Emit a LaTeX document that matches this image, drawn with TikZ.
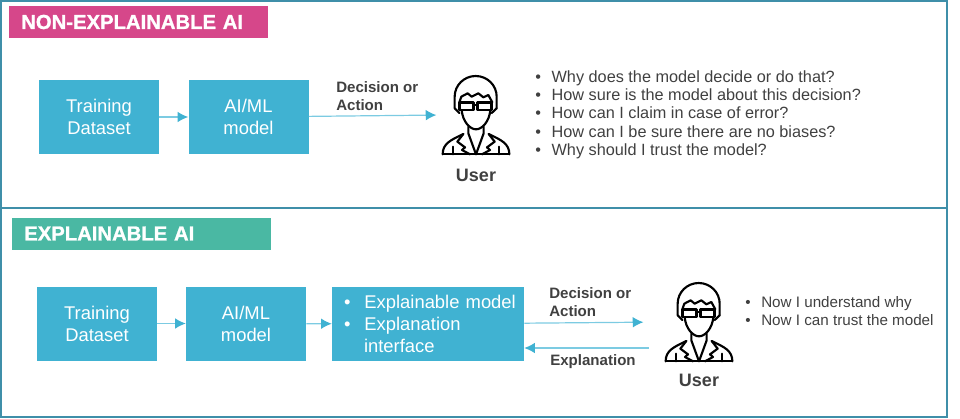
\documentclass[tikz,border=0pt]{standalone}
\usepackage{fontspec}
\usepackage{tikz}
\usetikzlibrary{arrows.meta}
\setmainfont{Liberation Sans}
\newfontfamily\headfont[FakeBold=1.2, UprightFont=*, BoldFont=*]{Liberation Sans Bold}
\definecolor{boxblue}{HTML}{40B2D2}
\definecolor{linkblue}{HTML}{7CCBE2}
\definecolor{framecol}{HTML}{3F8FA9}
\definecolor{headpink}{HTML}{D6478A}
\definecolor{headgreen}{HTML}{4AB8A3}
\definecolor{labelgrey}{HTML}{404040}
\begin{document}
\begin{tikzpicture}[x=0.75pt, y=-0.75pt]
	\tikzset{frame/.style={draw=framecol, line width=1.1pt}}
	\tikzset{header/.style={anchor=west, minimum height=24pt, text width=176pt, inner xsep=9pt, inner ysep=0pt, text=white, font=\headfont\fontsize{15.2}{16}\selectfont}}
	\tikzset{block/.style={fill=boxblue, text=white, minimum width=90pt, minimum height=55.5pt, inner sep=0pt, align=center, font=\fontsize{13.8}{16.5}\selectfont}}
	\tikzset{edge/.style={draw=linkblue, line width=0.9pt, -{Latex[length=8pt, width=8pt, color=boxblue]}}}
	\tikzset{tag/.style={anchor=west, inner sep=0pt, align=left, text=labelgrey, font=\fontsize{11.3}{13.8}\selectfont\bfseries}}
	\tikzset{usertag/.style={text=labelgrey, inner sep=0pt, font=\fontsize{13.5}{16}\selectfont\bfseries}}
	\tikzset{questions/.style={anchor=north west, inner sep=0pt, align=left, text=labelgrey}}
	\tikzset{usericon/.style={minimum width=50pt, minimum height=58pt, inner sep=0pt}}
	\tikzset{pics/userfig/.style={code={
		\begin{scope}[x=0.25pt, y=-0.25pt, line width=1.6pt, line join=round, line cap=round, black]
			%hair
			\draw (-64,-20) -- (-64,-55) arc[start angle=180, end angle=360, x radius=63, y radius=62] -- (62,-20);
			\draw (-50,-38) -- (-44,-55) -- (-25,-65) -- (-13,-55) -- (7,-65) -- (22,-53) -- (37,-60) -- (49,-38);
			%glasses
			\draw[line width=2pt] (-50,-38) rectangle (-8,-15);
			\draw[line width=2pt] (4,-38) rectangle (47,-15);
			\draw[line width=2pt] (-8,-30) -- (4,-30);
			%face
			\draw (-43,-15) .. controls (-40,20) and (-18,43) .. (0,43) .. controls (18,43) and (40,20) .. (43,-15);
			\draw (-64,-20) -- (-50,-6) (62,-20) -- (47,-6);
			%neck and body
			\draw (-23,35) -- (-23,55) -- (0,118) -- (23,55) -- (23,35);
			\draw (-100,118) .. controls (-100,85) and (-75,75) .. (-38,57);
			\draw (100,118) .. controls (100,85) and (75,75) .. (38,57);
			\draw (-100,118) -- (100,118);
			%collar
			\draw (-38,57) -- (-56,80) -- (-33,97) -- (-42,105) -- (-18,118);
			\draw (38,57) -- (56,80) -- (33,97) -- (42,105) -- (18,118);
			\draw (-68,95) -- (-68,118) (68,95) -- (68,118);
		\end{scope}
	}}}
	%frames
	\node[frame, minimum width=709.5pt, minimum height=155pt, inner sep=0pt] (top) at (474,104.5) {};
	\node[frame, minimum width=709.5pt, minimum height=156.5pt, inner sep=0pt] (bottom) at (474,312.5) {};
	%headers
	\node[header, fill=headpink] (headone) at (9,22) {NON-EXPLAINABLE AI};
	\node[header, fill=headgreen] (headtwo) at (12,233.5) {EXPLAINABLE AI};
	%upper row
	\node[block] (trainone) at (99,117) {Training\\Dataset};
	\node[block] (modelone) at (248.5,117) {AI/ML\\model};
	\node[usericon] (userone) at (476,115) {};
	\pic at (userone.center) {userfig};
	\node[usertag] (nameone) at (476,175) {User};
	\node[tag] (decone) at (336,96) {Decision or\\Action};
	\node[questions, font=\fontsize{12.2}{13.8}\selectfont] (askone) at (535,70) {
		•\hspace{8pt}Why does the model decide or do that?\\
		•\hspace{8pt}How sure is the model about this decision?\\
		•\hspace{8pt}How can I claim in case of error?\\
		•\hspace{8pt}How can I be sure there are no biases?\\
		•\hspace{8pt}Why should I trust the model?};
	%lower row
	\node[block] (traintwo) at (97,323.5) {Training\\Dataset};
	\node[block] (modeltwo) at (246,323.5) {AI/ML\\model};
	\node[block, text width=144pt, align=left] (explain) at (428,324) {
		\hspace{9pt}•\hspace{10.5pt}Explainable model\\
		\hspace{9pt}•\hspace{10.5pt}Explanation\\
		\hspace{24pt}interface};
	\node[usericon] (usertwo) at (699,322) {};
	\pic at (usertwo.center) {userfig};
	\node[usertag] (nametwo) at (699,380) {User};
	\node[tag] (dectwo) at (549,302) {Decision or\\Action};
	\node[tag] (exptag) at (550,362) {Explanation};
	\node[questions, font=\fontsize{11.4}{13.5}\selectfont] (asktwo) at (745,296.5) {
		•\hspace{8pt}Now I understand why\\
		•\hspace{8pt}Now I can trust the model};
	\coordinate (userback) at (649,348);
	%edges
	\draw[edge] (trainone) -- (modelone);
	\draw[edge, shorten >=4.5pt] (modelone) -- (userone.west);
	\draw[edge] (traintwo) -- (modeltwo);
	\draw[edge] (modeltwo) -- (explain);
	\draw[edge, shorten >=16.5pt] (explain) -- (usertwo.west);
	\draw[edge] (userback) -- (explain.east |- userback);
	%page size
	\useasboundingbox (0,0) rectangle (960,418);
\end{tikzpicture}
\end{document}
